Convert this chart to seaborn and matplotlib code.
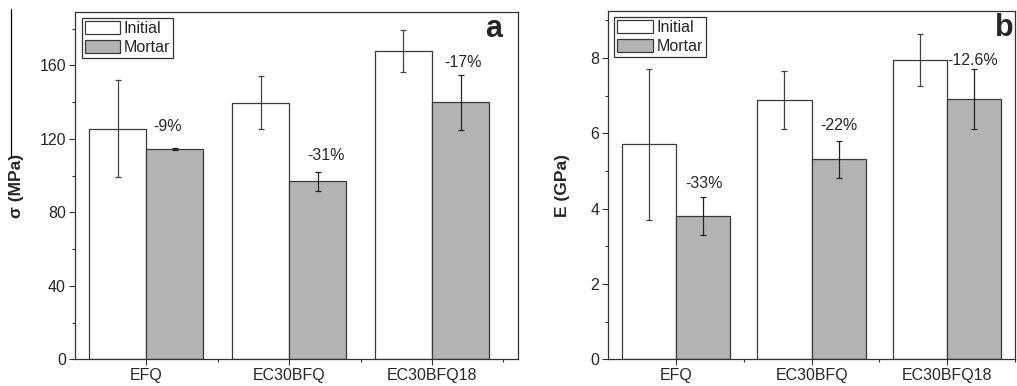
import matplotlib; matplotlib.use('Agg')
import numpy as np
import pandas as pd
import seaborn as sns
import matplotlib.pyplot as plt
from matplotlib.lines import Line2D
from matplotlib.ticker import MultipleLocator

sns.set_style('ticks')
plt.rcParams['font.family'] = ['Liberation Sans', 'DejaVu Sans']

samples = ['EFQ', 'EC30BFQ', 'EC30BFQ18']
conditions = ['Initial', 'Mortar']

# panel a: strength (MPa)
sigma_initial = [125.5, 139.7, 167.8]
sigma_initial_err = [26.5, 14.5, 11.2]
sigma_mortar = [114.4, 96.8, 139.8]
sigma_mortar_err = [0.5, 5.2, 15.0]
sigma_labels = ['-9%', '-31%', '-17%']
sigma_label_y = [126.6, 111.0, 161.5]
sigma_label_dx = [0.15, 0.26, 0.22]

# panel b: modulus (GPa)
e_initial = [5.71, 6.88, 7.95]
e_initial_err = [2.0, 0.77, 0.68]
e_mortar = [3.81, 5.31, 6.91]
e_mortar_err = [0.5, 0.5, 0.79]
e_labels = ['-33%', '-22%', '-12.6%']
e_label_y = [4.67, 6.2, 7.94]
e_label_dx = [0.21, 0.2, 0.19]

palette = {'Initial': 'white', 'Mortar': '#b3b3b3'}
edge = '#3a3a3a'


def make_panel(ax, init, init_err, mort, mort_err, labels, label_y, label_dx,
               ylabel, letter, letter_x, ymax, major, minor, xmax):
    df = pd.DataFrame({
        'sample': samples * 2,
        'cond': ['Initial'] * 3 + ['Mortar'] * 3,
        'value': init + mort,
    })
    sns.barplot(data=df, x='sample', y='value', hue='cond', hue_order=conditions,
                palette=palette, edgecolor=edge, linewidth=0.9, width=0.8,
                errorbar=None, ax=ax)
    x = np.arange(len(samples))
    ax.errorbar(x - 0.2, init, yerr=init_err, fmt='none', ecolor='#444444',
                elinewidth=0.9, capsize=2.5, capthick=0.9)
    ax.errorbar(x + 0.2, mort, yerr=mort_err, fmt='none', ecolor='#222222',
                elinewidth=0.9, capsize=2.5, capthick=0.9)
    for i, (t, yy, dx) in enumerate(zip(labels, label_y, label_dx)):
        ax.text(i + dx, yy, t, ha='center', va='center', fontsize=11.5)
    ax.set_xlim(-0.5, xmax)
    ax.set_ylim(0, ymax)
    ax.yaxis.set_major_locator(MultipleLocator(major))
    ax.yaxis.set_minor_locator(MultipleLocator(minor))
    ax.set_xticks([0, 1, 2])
    ax.set_xticks([0.5, 1.5, 2.5], minor=True)
    ax.tick_params(axis='both', which='major', direction='out', length=4,
                   width=0.8, labelsize=11.5, color='#333333', pad=2.5)
    ax.tick_params(axis='both', which='minor', direction='out', length=2.5,
                   width=0.8, color='#333333')
    ax.tick_params(axis='x', labelsize=11.5)
    ax.set_xlabel('')
    ax.set_ylabel(ylabel, fontsize=12.5, fontweight='bold')
    for s in ax.spines.values():
        s.set_color('#333333')
        s.set_linewidth(0.9)
    ax.text(letter_x, 0.952, letter, transform=ax.transAxes, ha='right', va='center',
            fontsize=22, fontweight='bold')
    leg = ax.legend(loc='upper left', bbox_to_anchor=(0.015, 0.983),
                    fontsize=11.5, frameon=True, fancybox=False,
                    edgecolor='#333333', framealpha=1, handlelength=2.2,
                    handleheight=0.8, borderpad=0.2, labelspacing=0.25,
                    handletextpad=0.25, borderaxespad=0.0)
    leg.get_frame().set_linewidth(0.9)


fig = plt.figure(figsize=(10.17, 3.86), dpi=100)
ax_a = fig.add_axes([0.0737, 0.069, 0.4353, 0.9])
ax_b = fig.add_axes([0.598, 0.069, 0.4, 0.9025])

make_panel(ax_a, sigma_initial, sigma_initial_err, sigma_mortar, sigma_mortar_err,
           sigma_labels, sigma_label_y, sigma_label_dx,
           'σ (MPa)', 'a', 0.966, 189, 40, 20, 2.6)
make_panel(ax_b, e_initial, e_initial_err, e_mortar, e_mortar_err,
           e_labels, e_label_y, e_label_dx,
           'E (GPa)', 'b', 0.996, 9.25, 2, 1, 2.43)
ax_a.yaxis.set_label_coords(-0.115, 0.5)
ax_b.yaxis.set_label_coords(-0.095, 0.5)

# thin leftover crop line at the far left of the source image
fig.add_artist(Line2D([0.0105, 0.0105], [1 - 9 / 386, 1 - 157 / 386],
                      transform=fig.transFigure, color='black', linewidth=0.9))

fig.savefig('out.png', dpi=100)
